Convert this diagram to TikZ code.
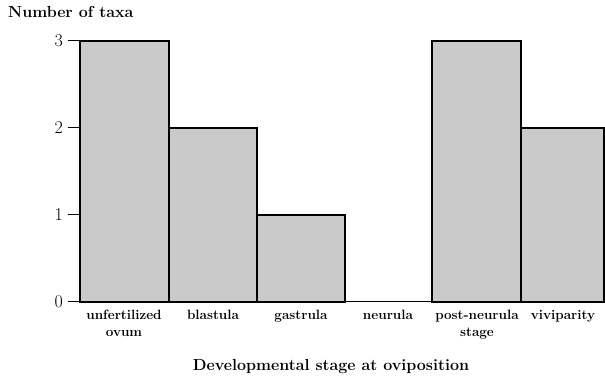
\documentclass[tikz,border=0pt]{standalone}
\usepackage{tikz}
\usetikzlibrary{positioning}
\definecolor{cBar}{HTML}{CACACA}
\tikzset{
  bar/.style   ={draw=black, fill=cBar, line width=1.3pt},
  axis/.style  ={draw=black, line width=1pt},
  tick/.style  ={font=\fontsize{18}{20}\selectfont, anchor=east, inner sep=2pt},
  cat/.style   ={font=\fontsize{13.5}{17}\selectfont\bfseries, align=center, anchor=north, inner sep=0pt},
  ttl/.style   ={font=\fontsize{16}{18}\selectfont\bfseries, inner sep=0pt},
}
\begin{document}
\begin{tikzpicture}[x=1pt,y=1pt]
  \useasboundingbox (0,0) rectangle (605,380);
  % bars: left edge / right edge / height
  \foreach \l/\r/\h in {80/169/3, 169/257/2, 257/345/1, 432/521/3, 521/604/2}
    \draw[bar] (\l,78) rectangle (\r,78+87*\h);
  % axis and ticks
  \draw[axis] (68,78) -- (604,78);
  \foreach \v in {0,1,2,3}{
    \draw[axis] (68,78+87*\v) -- (80,78+87*\v);
    \node[tick] (t\v) at (65,78+87*\v) {\v};
  }
  % category labels
  \node[cat] (c1) at (124,70) {unfertilized\\ovum};
  \node[cat] (c2) at (213,70) {blastula};
  \node[cat] (c3) at (301,70) {gastrula};
  \node[cat] (c4) at (388,70) {neurula};
  \node[cat] (c5) at (477,70) {post-neurula\\stage};
  \node[cat] (c6) at (563,70) {viviparity};
  % titles
  \node[ttl, anchor=west] (ytl) at (8,368) {Number of taxa};
  \node[ttl] (xtl) at (331,13) {Developmental stage at oviposition};
\end{tikzpicture}
\end{document}
